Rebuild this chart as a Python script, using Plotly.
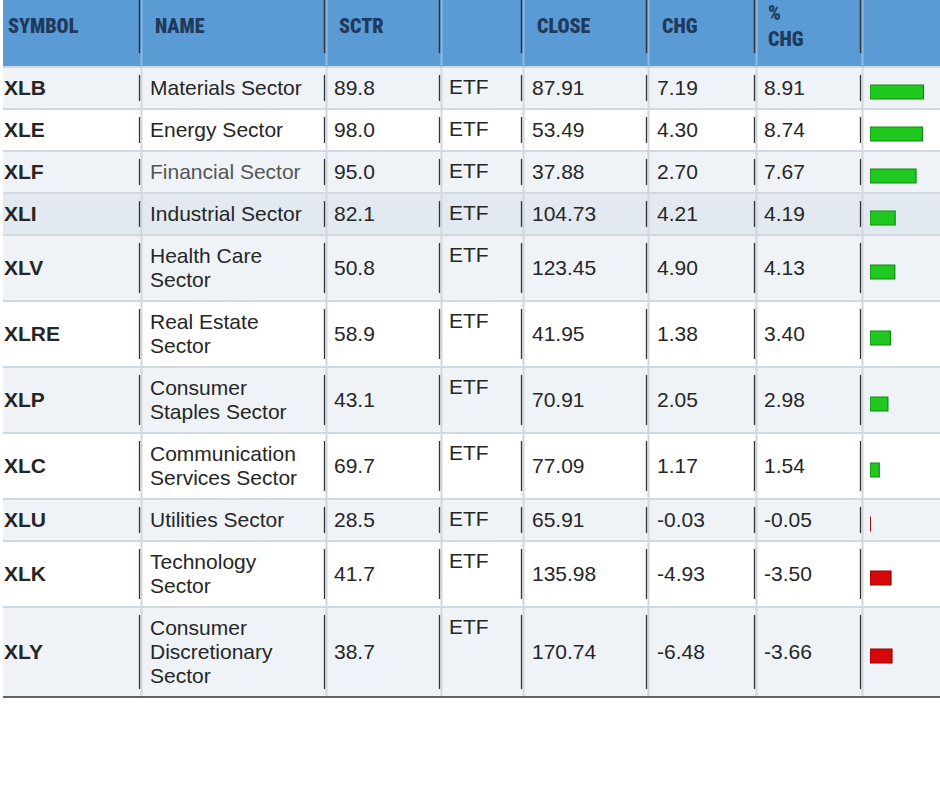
import plotly.graph_objects as go

# ---------------- data ----------------
symbols = ["XLB", "XLE", "XLF", "XLI", "XLV", "XLRE", "XLP", "XLC", "XLU", "XLK", "XLY"]
names = ["Materials Sector", "Energy Sector", "Financial Sector", "Industrial Sector",
         "Health Care\nSector", "Real Estate\nSector", "Consumer\nStaples Sector",
         "Communication\nServices Sector", "Utilities Sector", "Technology\nSector",
         "Consumer\nDiscretionary\nSector"]
sctr = [89.8, 98.0, 95.0, 82.1, 50.8, 58.9, 43.1, 69.7, 28.5, 41.7, 38.7]
kinds = ["ETF"] * 11
close = [87.91, 53.49, 37.88, 104.73, 123.45, 41.95, 70.91, 77.09, 65.91, 135.98, 170.74]
chg = [7.19, 4.30, 2.70, 4.21, 4.90, 1.38, 2.05, 1.17, -0.03, -4.93, -6.48]
pct_chg = [8.91, 8.74, 7.67, 4.19, 4.13, 3.40, 2.98, 1.54, -0.05, -3.50, -3.66]
headers = ["SYMBOL", "NAME", "SCTR", "", "CLOSE", "CHG", "%\nCHG", ""]

# ---------------- layout / style ----------------
W, H = 940, 788
COL_EDGES = [3, 140, 325, 440, 522, 647, 755, 861, 940]
BODY_PAD = [1, 10, 9, 9, 10, 10, 9]
HEAD_PAD = [5, 15, 14, 14, 15, 15, 13]
HEADER_H = 67
HEADER_MID = 28
LINE_H = 24
ROW_BASE = 18
TEXT_SHIFT = 2
PX_PER_PCT = 6.0
BAR_OFFSET = 4

HEAD_BG = "#5b9bd5"
HEAD_TXT = "#1f3a5c"
ROW_BG = ["#eff3f7", "#ffffff", "#eff3f7", "#e3e9f0", "#eff3f7", "#ffffff",
          "#eff3f7", "#ffffff", "#eff3f7", "#ffffff", "#eff3f7"]
LIGHT_BORDER = "#d0d8e0"
DARK = "#333333"
TXT = "#262626"
BODY_FONT = "Liberation Sans, Arial, sans-serif"
HEAD_FONT = "Roboto Condensed, Roboto, Liberation Sans, sans-serif"

# row geometry derived from number of lines in each name
n_lines = [len(n.split("\n")) for n in names]
tops, bottoms = [], []
y = HEADER_H
for k in n_lines:
    tops.append(y)
    y += ROW_BASE + LINE_H * k
    bottoms.append(y)
centers = [(t + b) / 2 for t, b in zip(tops, bottoms)]
table_bottom = bottoms[-1]

fig = go.Figure()
shapes = []

# header background
shapes.append(dict(type="rect", xref="x", yref="y", x0=COL_EDGES[0], x1=COL_EDGES[-1],
                   y0=0, y1=HEADER_H - 1, fillcolor=HEAD_BG, line_width=0, layer="below"))
# row backgrounds
for i in range(len(symbols)):
    shapes.append(dict(type="rect", xref="x", yref="y", x0=COL_EDGES[0], x1=COL_EDGES[-1],
                       y0=tops[i], y1=bottoms[i], fillcolor=ROW_BG[i], line_width=0,
                       layer="below"))
# horizontal light borders
for yy in [HEADER_H] + bottoms[:-1]:
    shapes.append(dict(type="line", xref="x", yref="y", x0=COL_EDGES[0], x1=COL_EDGES[-1],
                       y0=yy, y1=yy, line=dict(color=LIGHT_BORDER, width=2), layer="below"))
# vertical light borders
for xe in COL_EDGES[1:-1]:
    shapes.append(dict(type="line", xref="x", yref="y", x0=xe + 1.5, x1=xe + 1.5,
                       y0=0, y1=HEADER_H, line=dict(color="#8fb8e3", width=2), layer="below"))
    shapes.append(dict(type="line", xref="x", yref="y", x0=xe + 1.5, x1=xe + 1.5,
                       y0=HEADER_H, y1=table_bottom, line=dict(color=LIGHT_BORDER, width=2),
                       layer="below"))
# dark separators
for xe in COL_EDGES[1:-1]:
    shapes.append(dict(type="line", xref="x", yref="y", x0=xe - 0.5, x1=xe - 0.5,
                       y0=0, y1=53, line=dict(color="#2a3440", width=1.5)))
    for t, b in zip(tops, bottoms):
        shapes.append(dict(type="line", xref="x", yref="y", x0=xe - 0.5, x1=xe - 0.5,
                           y0=t + 8, y1=b - 8, line=dict(color=DARK, width=1.3)))
# bottom dark line
shapes.append(dict(type="line", xref="x", yref="y", x0=COL_EDGES[0], x1=COL_EDGES[-1],
                   y0=table_bottom, y1=table_bottom, line=dict(color=DARK, width=1.5)))

# ---------------- header text ----------------
hx, hy, ht = [], [], []
for c, lab in enumerate(headers[:7]):
    if not lab:
        continue
    parts = lab.split("\n")
    for j, p in enumerate(parts):
        hx.append(COL_EDGES[c] + HEAD_PAD[c])
        hy.append(HEADER_MID + (j - (len(parts) - 1) / 2) * 25.5)
        ht.append(p)
fig.add_trace(go.Scatter(x=hx, y=hy, text=ht, mode="text", textposition="middle right",
                         textfont=dict(family=HEAD_FONT, size=20, color=HEAD_TXT, weight=900),
                         hoverinfo="skip", showlegend=False))

# ---------------- body text ----------------
def col_trace(c, values, ys, bold=False, colors=TXT):
    fig.add_trace(go.Scatter(
        x=[COL_EDGES[c] + BODY_PAD[c]] * len(values), y=[v + TEXT_SHIFT for v in ys],
        text=values, mode="text", textposition="middle right",
        textfont=dict(family=BODY_FONT, size=21, color=colors,
                      weight="bold" if bold else "normal"),
        hoverinfo="skip", showlegend=False))

col_trace(0, symbols, centers, bold=True)

nx_text, ny, ncol = [], [], []
for i, n in enumerate(names):
    parts = n.split("\n")
    for j, p in enumerate(parts):
        nx_text.append(p)
        ny.append(centers[i] + (j - (len(parts) - 1) / 2) * LINE_H)
        ncol.append("#555555" if symbols[i] == "XLF" else TXT)
col_trace(1, nx_text, ny, colors=ncol)
col_trace(2, [f"{v:.1f}" for v in sctr], centers)
col_trace(3, kinds, [t + 20 for t in tops])
col_trace(4, [f"{v:.2f}" for v in close], centers)
col_trace(5, [f"{v:.2f}" for v in chg], centers)
col_trace(6, [f"{v:.2f}" for v in pct_chg], centers)

# ---------------- bars ----------------
bar_y = [c + BAR_OFFSET for c in centers]
mag = [abs(v) for v in pct_chg]
fill = ["#20c820" if v >= 0 else "#d80808" for v in pct_chg]
edge = ["#0e8a0e" if v >= 0 else "#8e0000" for v in pct_chg]
fig.add_trace(go.Bar(x=mag, y=bar_y, orientation="h", width=14, xaxis="x2", yaxis="y",
                     marker=dict(color=fill, line=dict(color=edge, width=1.2)),
                     hoverinfo="skip", showlegend=False))

bar_start = COL_EDGES[7] + 9
fig.update_layout(
    width=W, height=H, margin=dict(l=0, r=0, t=0, b=0),
    paper_bgcolor="white", plot_bgcolor="rgba(0,0,0,0)", barmode="overlay",
    shapes=shapes,
    xaxis=dict(range=[0, W], visible=False, fixedrange=True, domain=[0, 1]),
    xaxis2=dict(range=[0, (W - bar_start) / PX_PER_PCT], domain=[bar_start / W, 1],
                anchor="y", visible=False, fixedrange=True),
    yaxis=dict(range=[H, 0], visible=False, fixedrange=True),
)

fig.write_html("out.html", config={"displayModeBar": False},
               post_script="document.body.style.margin='0';document.body.style.overflow='hidden';")
